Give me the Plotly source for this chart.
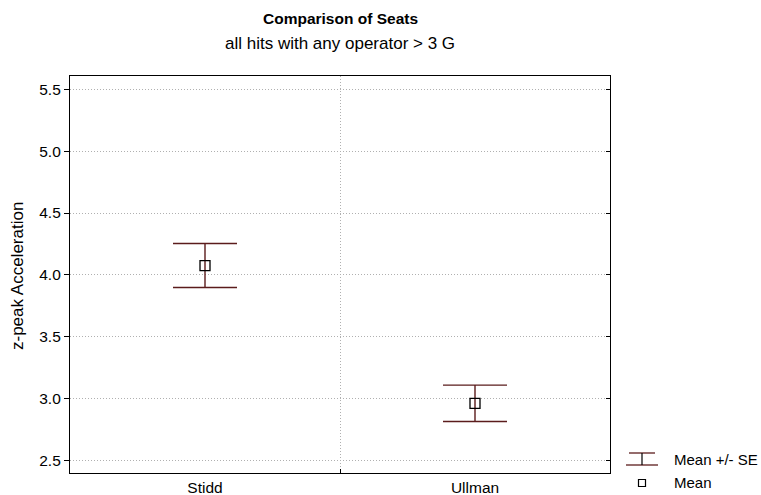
import plotly.graph_objects as go

categories = ["Stidd", "Ullman"]
means = [4.076, 2.963]
se = [0.178, 0.147]
y_ticks = [2.5, 3.0, 3.5, 4.0, 4.5, 5.0, 5.5]

W, H = 761, 495
L, R, T, B = 70, 151, 76, 22
pw, ph = W - L - R, H - T - B

def px_x(x):
    return (x - L) / pw

def px_y(y):
    return (H - B - y) / ph

FONT = "Liberation Sans, Arial, sans-serif"
ERR = "#5b1c1c"
GRID = "#b0b0b0"
GDASH = "1px,2px"
FS = 15.5

x_idx = list(range(len(categories)))

fig = go.Figure()
fig.add_trace(go.Scatter(
    x=x_idx, y=means, mode="markers",
    marker=dict(symbol="square-open", size=10, color="black", line=dict(width=1.3)),
    error_y=dict(type="data", array=se, visible=True, color=ERR, thickness=1.4, width=32),
    showlegend=False,
))
fig.add_trace(go.Scatter(x=x_idx, y=means, yaxis="y2", mode="markers",
                         marker=dict(opacity=0), showlegend=False, hoverinfo="skip"))

fig.update_layout(
    width=W, height=H,
    margin=dict(l=L, r=R, t=T, b=B, autoexpand=False),
    paper_bgcolor="white", plot_bgcolor="white",
    font=dict(family=FONT, size=FS, color="black"),
    xaxis=dict(
        range=[-0.5, len(categories) - 0.5], automargin=False,
        tickvals=x_idx, ticktext=categories,
        showgrid=False, zeroline=False,
        showline=True, linecolor="black", linewidth=1.2, mirror=True,
        ticks="", tickfont=dict(size=FS),
        minor=dict(tickvals=[0.5], showgrid=True, gridcolor=GRID,
                   griddash=GDASH, gridwidth=1, ticks="inside", ticklen=4, tickcolor="black"),
    ),
    yaxis=dict(
        range=[2.4, 5.607], automargin=False,
        tickvals=y_ticks, ticktext=[f"{v:.1f}" for v in y_ticks],
        showgrid=True, gridcolor=GRID, griddash=GDASH, gridwidth=1,
        zeroline=False,
        showline=True, linecolor="black", linewidth=1.2, mirror=True,
        ticks="outside", ticklen=5, tickcolor="black",
        tickfont=dict(size=FS),
    ),
    yaxis2=dict(
        overlaying="y", side="right", matches="y", range=[2.4, 5.607], automargin=False,
        tickvals=y_ticks, showticklabels=False, showgrid=False, zeroline=False,
        ticks="inside", ticklen=4, tickcolor="black",
    ),
    showlegend=False,
)

# titles
fig.add_annotation(text="<b>Comparison of Seats</b>", xref="paper", yref="paper",
                   x=px_x(340), y=px_y(19), showarrow=False,
                   font=dict(size=15.5, family=FONT), xanchor="center", yanchor="middle")
fig.add_annotation(text="all hits with any operator > 3 G", xref="paper", yref="paper",
                   x=px_x(340), y=px_y(43), showarrow=False,
                   font=dict(size=17, family=FONT), xanchor="center", yanchor="middle")
fig.add_annotation(text="z-peak Acceleration", xref="paper", yref="paper",
                   x=px_x(17), y=px_y(276), showarrow=False, textangle=-90,
                   font=dict(size=17, family=FONT), xanchor="center", yanchor="middle")

# legend (manual)
ly1, ly2 = 459, 483
cx = 642
fig.add_shape(type="line", xref="paper", yref="paper",
              x0=px_x(cx - 13), x1=px_x(cx + 13), y0=px_y(ly1 - 6), y1=px_y(ly1 - 6),
              line=dict(color=ERR, width=1.3))
fig.add_shape(type="line", xref="paper", yref="paper",
              x0=px_x(cx - 16), x1=px_x(cx + 16), y0=px_y(ly1 + 6), y1=px_y(ly1 + 6),
              line=dict(color=ERR, width=1.3))
fig.add_shape(type="line", xref="paper", yref="paper",
              x0=px_x(cx), x1=px_x(cx), y0=px_y(ly1 - 6), y1=px_y(ly1 + 6),
              line=dict(color="black", width=1.2))
fig.add_shape(type="rect", xref="paper", yref="paper",
              x0=px_x(cx - 3.5), x1=px_x(cx + 3.5), y0=px_y(ly2 - 3.5), y1=px_y(ly2 + 3.5),
              line=dict(color="black", width=1.2))
fig.add_annotation(text="Mean +/- SE", xref="paper", yref="paper", x=px_x(672), y=px_y(ly1),
                   showarrow=False, xanchor="left", yanchor="middle", font=dict(size=15))
fig.add_annotation(text="Mean", xref="paper", yref="paper", x=px_x(672), y=px_y(ly2),
                   showarrow=False, xanchor="left", yanchor="middle", font=dict(size=15))

fig.write_html("out.html", config={"displayModeBar": False},
               post_script="document.body.style.margin='0';document.body.style.overflow='hidden';")
